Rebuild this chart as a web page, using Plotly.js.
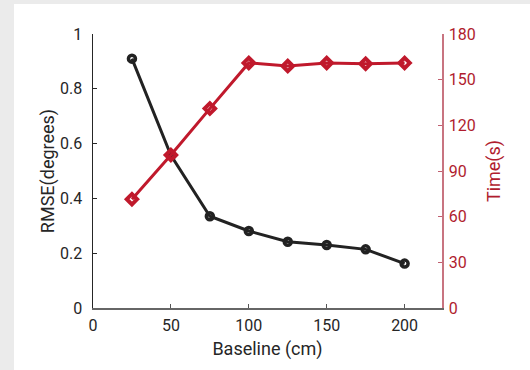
<!DOCTYPE html>
<html>
<head>
<meta charset="utf-8">
<script src="https://cdn.plot.ly/plotly-3.0.1.min.js"></script>
<style>
  html, body { margin: 0; padding: 0; background: #ebebeb; width: 530px; height: 370px; overflow: hidden; }
  #chart { position: absolute; left: 14px; top: 4px; width: 516px; height: 366px; background: #ffffff; }
</style>
</head>
<body>
<div id="chart"></div>
<script>
const baseline = [25, 50, 75, 100, 125, 150, 175, 200];
const rmse = [0.91, 0.557, 0.335, 0.281, 0.242, 0.23, 0.214, 0.162];
const timeS = [71.5, 100.5, 131, 161, 159, 161, 160.5, 161];
const xTicks = [0, 50, 100, 150, 200];
const yTicks = [0, 0.2, 0.4, 0.6, 0.8, 1];
const yTickText = ["0", "0.2", "0.4", "0.6", "0.8", "1"];
const y2Ticks = [0, 30, 60, 90, 120, 150, 180];

const black = '#222222';
const red = '#c0192c';

const traces = [
  {
    x: baseline, y: rmse, type: 'scatter', mode: 'lines+markers',
    line: { color: black, width: 3 },
    marker: { symbol: 'circle-open', size: 7, color: black, line: { width: 3.5, color: black } },
    yaxis: 'y', showlegend: false, cliponaxis: false
  },
  {
    x: baseline, y: timeS, type: 'scatter', mode: 'lines+markers',
    line: { color: red, width: 3 },
    marker: { symbol: 'diamond-open', size: 8, color: red, line: { width: 4, color: red } },
    yaxis: 'y2', showlegend: false, cliponaxis: false
  }
];

const layout = {
  width: 516, height: 366,
  margin: { l: 79, r: 88, t: 30, b: 62, pad: 0 },
  paper_bgcolor: '#ffffff', plot_bgcolor: '#ffffff',
  font: { family: 'Roboto, sans-serif', size: 16, color: '#262626' },
  xaxis: {
    range: [0, 224], tickvals: xTicks, ticktext: xTicks.map(String),
    ticks: 'inside', ticklen: 4, tickcolor: '#555', tickwidth: 1,
    showline: true, linecolor: '#666666', linewidth: 1.5,
    showgrid: false, zeroline: false, ticklabelstandoff: 2,
    tickfont: { size: 16, color: '#262626' },
    title: { text: 'Baseline (cm)', font: { size: 18, color: '#262626' }, standoff: 8 }
  },
  yaxis: {
    range: [0, 1], tickvals: yTicks, ticktext: yTickText,
    ticks: 'inside', ticklen: 4, tickcolor: '#262626', tickwidth: 1,
    showline: true, linecolor: '#262626', linewidth: 1.5,
    showgrid: false, zeroline: false, ticklabelstandoff: 6,
    tickfont: { size: 16, color: '#262626' },
    title: { text: 'RMSE(degrees)', font: { size: 18, color: '#262626' }, standoff: 1 }
  },
  yaxis2: {
    range: [0, 180], tickvals: y2Ticks, ticktext: y2Ticks.map(String),
    overlaying: 'y', side: 'right', anchor: 'x',
    ticks: 'inside', ticklen: 4, tickcolor: '#c06070', tickwidth: 1,
    showline: true, linecolor: '#c87480', linewidth: 1.5,
    showgrid: false, zeroline: false, ticklabelstandoff: 2,
    tickfont: { size: 16, color: '#b01c2e' },
    title: { text: 'Time(s)', font: { size: 18, color: '#b01c2e' }, standoff: 12 }
  }
};

Plotly.newPlot('chart', traces, layout, { displayModeBar: false, staticPlot: true });
</script>
</body>
</html>
